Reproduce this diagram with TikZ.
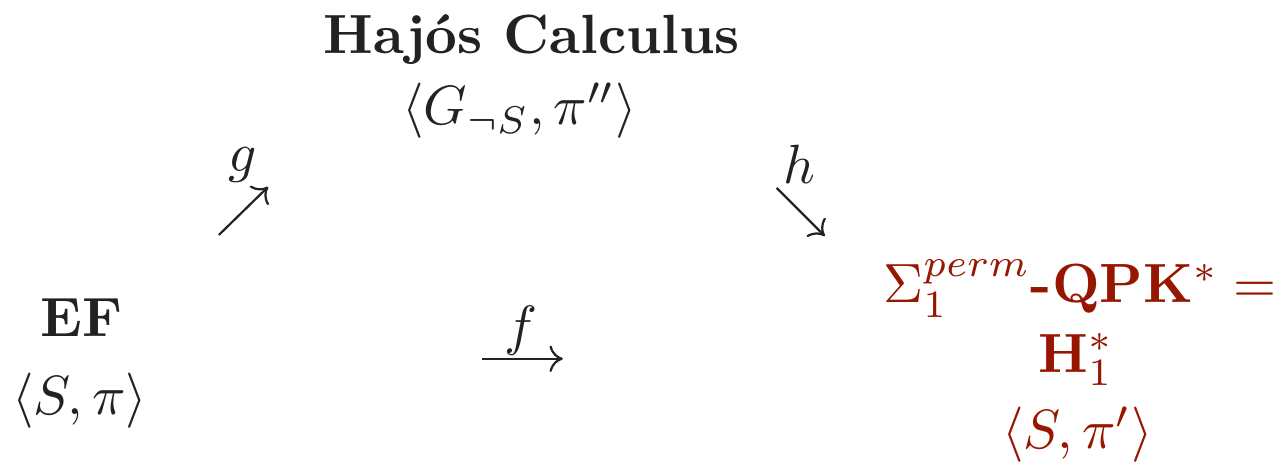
\documentclass[tikz,border=0pt]{standalone}
\usetikzlibrary{arrows.meta}
\definecolor{ink}{RGB}{34,34,34}
\definecolor{redink}{RGB}{150,22,0}
\begin{document}
\begin{tikzpicture}[x=1pt,y=1pt,
  txt/.style={inner sep=0pt,anchor=base,text=ink},
  rtxt/.style={inner sep=0pt,anchor=base,text=redink},
  lbl/.style={inner sep=0pt,text=ink},
  arr/.style={draw=ink,line width=0.4pt,-{Computer Modern Rightarrow[length=2.4pt,width=4.8pt]}}]
\useasboundingbox (0,0) rectangle (231,-85);
% top block
\node[txt] (hc) at (96.2,-9.6) {\textbf{Haj\'os Calculus}};
\node[txt] (hcp) at (94.0,-22.6) {$\langle G_{\neg S}, \pi''\rangle$};
% left block
\node[txt] (ef) at (14.8,-60.9) {\textbf{EF}};
\node[txt] (efp) at (14.4,-75.0) {$\langle S, \pi\rangle$};
% right block
\node[rtxt] (q1) at (195.4,-54.8) {$\Sigma_1^{perm}$\textbf{-QPK}$^*=$};
\node[rtxt] (q2) at (194.7,-67.3) {$\mathbf{H}_1^*$};
\node[rtxt] (q3) at (194.9,-81.2) {$\langle S, \pi'\rangle$};
% arrows
\coordinate (gs) at (39.6,-42.5);
\coordinate (ge) at (48.5,-33.8);
\coordinate (hs) at (140.5,-34.0);
\coordinate (he) at (149.2,-42.7);
\coordinate (fs) at (87.2,-64.9);
\coordinate (fe) at (101.8,-64.9);
\draw[arr] (gs) -- (ge);
\draw[arr] (hs) -- (he);
\draw[arr] (fs) -- (fe);
\node[lbl] (gl) at (43.9,-29.8) {$g$};
\node[lbl] (hl) at (144.7,-29.8) {$h$};
\node[lbl] (fl) at (94.2,-59.8) {$f$};
\end{tikzpicture}
\end{document}
